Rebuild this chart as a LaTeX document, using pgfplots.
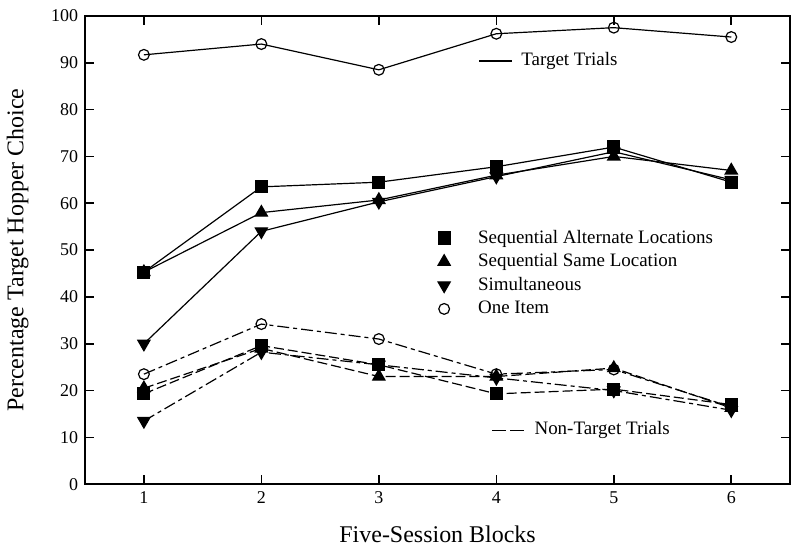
\documentclass[border=0pt]{standalone}
\usepackage{fontspec}
\setmainfont{Liberation Serif}
\usepackage{pgfplots}
\pgfplotsset{compat=1.18}
\usetikzlibrary{calc}

\begin{document}
\begin{tikzpicture}
\begin{axis}[
    scale only axis,
    width=353pt, height=234.5pt,
    xmin=0.5, xmax=6.5,
    ymin=0, ymax=100,
    xtick={1,2,3,4,5,6},
    ytick={0,10,...,100},
    tick align=inside,
    major tick length=4.5pt,
    axis line style={line width=1pt},
    every tick/.style={line width=0.8pt, black},
    tick label style={font=\fontsize{9}{10}\selectfont},
    /pgf/number format/assume math mode=true,
    xlabel={Five-Session Blocks},
    ylabel={Percentage Target Hopper Choice},
    label style={font=\fontsize{12}{14}\selectfont},
    xlabel style={yshift=-4.5pt},
    ylabel style={yshift=4.5pt},
    legend image code/.code={%
        \draw[#1] plot coordinates {(0pt,0pt)};
        \path[draw=none] (-3pt,0pt) -- (15pt,0pt);},
    legend style={at={(axis cs:3.45,56.1)}, anchor=north west, draw=none, fill=none,
        font=\fontsize{9.5}{11.75}\selectfont, row sep=-0.2pt},
    legend cell align=left,
    every axis plot/.append style={black, line width=0.6pt},
]
% target trials
\addplot[mark=square*, mark size=3pt, forget plot] coordinates {
    (1,45.3) (2,63.5) (3,64.5) (4,67.8) (5,72) (6,64.5)};
\addplot[mark=triangle*, mark size=3.5pt, forget plot] coordinates {
    (1,45.3) (2,58) (3,60.7) (4,66) (5,70) (6,67)};
\addplot[mark=triangle*, mark size=3.5pt, mark options={rotate=180}, forget plot] coordinates {
    (1,30) (2,54) (3,60.3) (4,65.7) (5,71) (6,65)};
\addplot[mark=o, mark size=2.7pt, forget plot] coordinates {
    (1,91.7) (2,94) (3,88.5) (4,96.2) (5,97.5) (6,95.5)};
% non-target trials
\addplot[mark=square*, mark size=3pt, dash pattern=on 5pt off 2pt, mark options={solid}, forget plot] coordinates {
    (1,19.3) (2,29.6) (3,25.5) (4,19.3) (5,20.3) (6,17)};
\addplot[mark=triangle*, mark size=3.5pt, dash pattern=on 5pt off 2pt, mark options={solid}, forget plot] coordinates {
    (1,20.5) (2,29) (3,23) (4,23) (5,24.8) (6,16.3)};
\addplot[mark=triangle*, mark size=3.5pt, dash pattern=on 6pt off 2pt on 2pt off 2pt, mark options={solid, rotate=180}, forget plot] coordinates {
    (1,13.5) (2,28.2) (3,25.5) (4,22.7) (5,20) (6,15.8)};
\addplot[mark=o, mark size=2.7pt, dash pattern=on 6pt off 2pt on 2pt off 2pt, mark options={solid}, forget plot] coordinates {
    (1,23.5) (2,34.2) (3,31) (4,23.5) (5,24.5) (6,16.5)};

\addlegendimage{only marks, mark=square*, mark size=3pt, black}
\addlegendentry{Sequential Alternate Locations}
\addlegendimage{only marks, mark=triangle*, mark size=3.5pt, black}
\addlegendentry{Sequential Same Location}
\addlegendimage{only marks, mark=triangle*, mark size=3.5pt, mark options={rotate=180}, black}
\addlegendentry{Simultaneous}
\addlegendimage{only marks, mark=o, mark size=2.7pt, black}
\addlegendentry{One Item}

% line-style key
\draw[line width=0.6pt] (axis cs:3.856,90.4) -- (axis cs:4.136,90.4);
\node[anchor=west, inner sep=0pt, font=\fontsize{9.5}{11}\selectfont] at (axis cs:4.21,90.4) {Target Trials};
\draw[line width=0.6pt, dash pattern=on 7pt off 2pt] (axis cs:3.966,11.5) -- (axis cs:4.237,11.5);
\node[anchor=west, inner sep=0pt, font=\fontsize{9.5}{11}\selectfont] at (axis cs:4.322,11.5) {Non-Target Trials};
\end{axis}
\path ($(current axis.south west)+(-42pt,-37pt)$) rectangle ($(current axis.north east)+(5pt,8pt)$);
\end{tikzpicture}
\end{document}
